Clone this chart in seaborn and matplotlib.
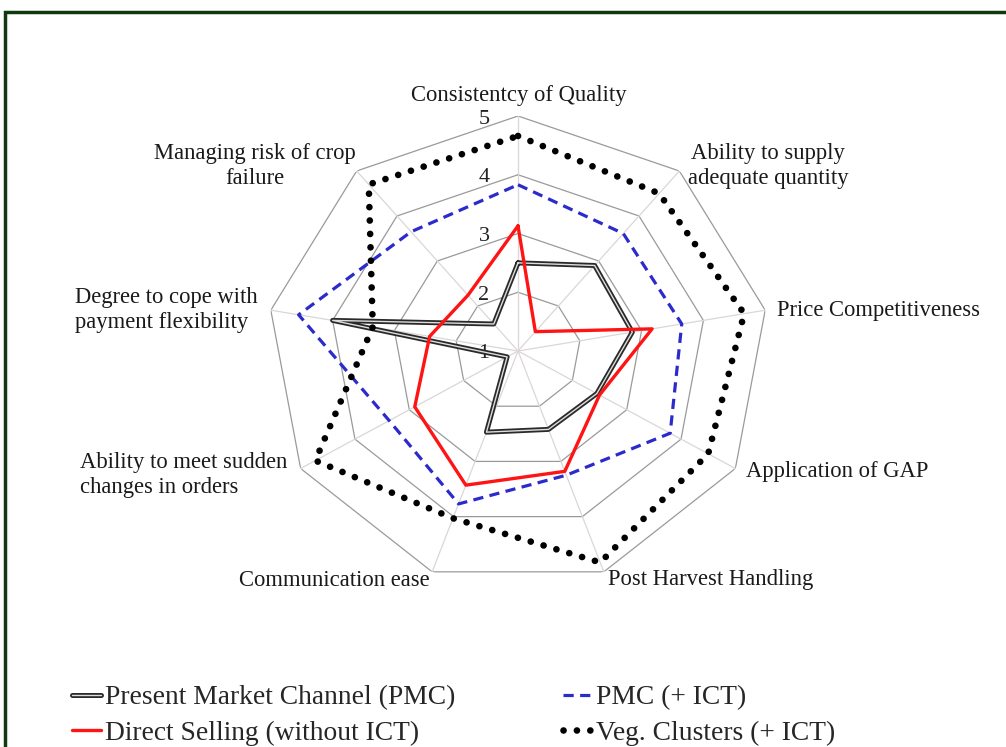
import numpy as np
import pandas as pd
import seaborn as sns
import matplotlib
matplotlib.use("Agg")
import matplotlib.pyplot as plt
import matplotlib.patheffects as pe
from matplotlib.patches import Rectangle
from matplotlib.transforms import ScaledTranslation

# ---- data ----
categories = ["Consistentcy of Quality", "Ability to supply\nadequate quantity",
              "Price Competitiveness", "Application of GAP", "Post Harvest Handling",
              "Communication ease", "Ability to meet sudden\nchanges in orders",
              "Degree to cope with\npayment flexibility", "Managing risk of crop\nfailure"]
pmc = [2.5, 2.9, 2.85, 2.45, 2.42, 2.47, 1.2, 4.0, 1.6]
direct = [3.13, 1.43, 3.17, 2.5, 3.18, 3.43, 2.9, 2.43, 2.24]
pmc_ict = [3.83, 3.61, 3.65, 3.8, 3.25, 3.77, 3.37, 4.55, 3.65]
veg = [4.66, 4.5, 4.66, 4.5, 4.83, 4.03, 4.73, 3.35, 4.7]
series_names = ["Present Market Channel (PMC)", "PMC (+ ICT)",
                "Direct Selling (without ICT)", "Veg. Clusters (+ ICT)"]
levels = [1, 2, 3, 4, 5]

sns.set_theme(style="white")
plt.rcParams['font.family'] = ['Liberation Serif', 'DejaVu Serif']

W, H = 1006, 747
fig = plt.figure(figsize=(W / 100, H / 100), dpi=100)
fig.patch.set_facecolor("white")

# polar axes, slightly wider than tall like the reference
cx, cy, rx, ry = 518, 351, 251, 235
ax = fig.add_axes([(cx - rx) / W, (H - cy - ry) / H, 2 * rx / W, 2 * ry / H],
                  projection="polar")
ax.set_aspect("auto")
ax.set_theta_offset(np.pi / 2)
ax.set_theta_direction(-1)
ax.set_ylim(levels[0], levels[-1])
ax.grid(False)
ax.spines["polar"].set_visible(False)
ax.set_xticks([])
ax.set_yticks([])
ax.set_facecolor("none")

n = len(categories)
theta = np.linspace(0, 2 * np.pi, n, endpoint=False)
theta_c = np.append(theta, 2 * np.pi)

# polygon grid rings and spokes
for lv in levels[1:]:
    ax.plot(theta_c, [lv] * (n + 1), color="#9a9a9a", lw=0.9, zorder=1)
for t in theta:
    ax.plot([t, t], [levels[0], levels[-1]], color="#dcd6d6", lw=0.9, zorder=1)

# radial tick labels to the left of the top spoke
off = ScaledTranslation(-34 / 100, -3 / 100, fig.dpi_scale_trans)
for lv in levels:
    ax.text(0, lv, str(lv), transform=ax.transData + off, ha="center",
            va="center", fontsize=16, color="#222222")


def close(v):
    return list(v) + [v[0]]


df = pd.DataFrame({"theta": np.tile(theta_c, 4),
                   "value": close(pmc) + close(pmc_ict) + close(direct) + close(veg),
                   "series": np.repeat(series_names, n + 1)})

styles = {
    series_names[0]: dict(color="#dddddd", lw=1.0,
                          path_effects=[pe.Stroke(linewidth=3.6, foreground="#2a2a2a"), pe.Normal()]),
    series_names[1]: dict(color="#2b2bcc", lw=2.3, linestyle=(0, (3.2, 2.0))),
    series_names[2]: dict(color="#ff1414", lw=2.4),
    series_names[3]: dict(color="black", lw=4.8, linestyle=(0, (0.01, 2.0)),
                          dash_capstyle="round"),
}
handles = {}
for name in series_names:
    sub = df[df["series"] == name]
    sns.lineplot(data=sub, x="theta", y="value", sort=False, estimator=None,
                 ax=ax, zorder=3, **styles[name])
    handles[name] = ax.lines[-1]
ax.set_xlabel("")
ax.set_ylabel("")
ax.set_xlim(0, 2 * np.pi)

# category labels
label_pos = [(519, 95, "center"), (768, 166, "center"), (777, 310, "left"),
             (746, 472, "left"), (608, 580, "left"), (430, 580, "right"),
             (80, 475, "left"), (75, 310, "left"), (255, 166, "center")]
for lab, (x, y, ha) in zip(categories, label_pos):
    fig.text(x / W, 1 - y / H, lab, ha=ha, va="center", multialignment=ha,
             fontsize=16.3, color="#1a1a1a", linespacing=1.3)

# legend filled column-wise: PMC / Direct in the first column
order = [series_names[0], series_names[2], series_names[1], series_names[3]]
leg = fig.legend([handles[k] for k in order], order, ncol=2, loc="upper left",
                 bbox_to_anchor=(72 / W, 1 - 685 / H), frameon=False,
                 fontsize=19.8, handlelength=1.05, handletextpad=0.15,
                 columnspacing=3.9, labelspacing=0.38, borderaxespad=0,
                 borderpad=0)

# dark green frame, cropped at right and bottom like the reference
fig.add_artist(Rectangle((5 / W, -0.2), 1.5, 1.2 - 12 / H, transform=fig.transFigure,
                         fill=False, edgecolor="#0e3a0e", lw=2.5))

fig.savefig("out.png", dpi=100)
